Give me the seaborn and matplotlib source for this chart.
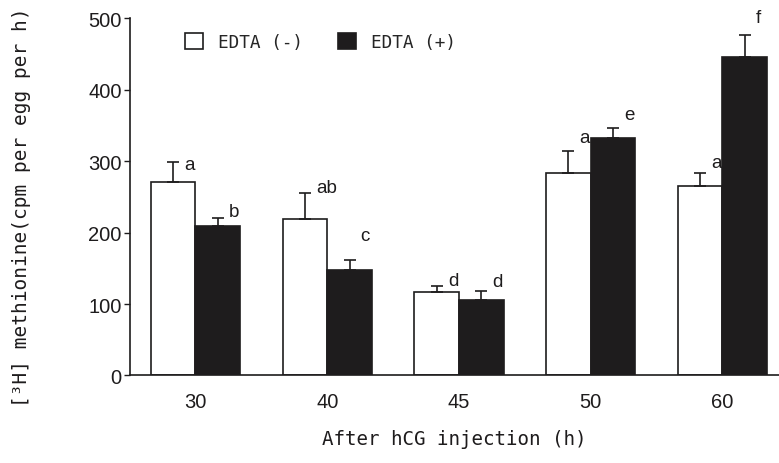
import pandas as pd
import matplotlib
matplotlib.use("Agg")
import matplotlib.pyplot as plt
import seaborn as sns
from matplotlib.patches import Patch

# data
hours = ["30", "40", "45", "50", "60"]
edta_minus = [271, 219, 117, 284, 265]
edta_minus_err = [28, 36, 8, 31, 19]
edta_plus = [210, 148, 106, 333, 446]
edta_plus_err = [11, 14, 12, 14, 31]
letters_minus = ["a", "ab", "d", "a", "a"]
letters_plus = ["b", "c", "d", "e", "f"]
# vertical nudge of each letter above its error bar (data units)
lift_minus = [-3, 8, 8, 18, 14]
lift_plus = [8, 34, 14, 18, 25]

groups = ["EDTA (-)", "EDTA (+)"]
df = pd.DataFrame({
    "hour": hours * 2,
    "group": [groups[0]] * 5 + [groups[1]] * 5,
    "value": edta_minus + edta_plus,
})

sns.set_style("ticks")
mono = ["DejaVu Sans Mono"]
tick_font = ["Liberation Sans Narrow", "Liberation Sans", "DejaVu Sans"]
ink = "#1e1c1d"

fig = plt.figure(figsize=(7.79, 4.64), dpi=100)
ax = fig.add_axes([0.1669, 0.1886, 0.8331, 0.7694])

sns.barplot(data=df, x="hour", y="value", hue="group", order=hours,
            hue_order=groups, palette=["white", ink], width=0.676,
            edgecolor=ink, linewidth=1.2, errorbar=None, legend=False,
            ax=ax)

# error bars (upper only) and significance letters
bars = ax.patches[:10]
errs = edta_minus_err + edta_plus_err
letters = letters_minus + letters_plus
lifts = lift_minus + lift_plus
for bar, e, lab, lift in zip(bars, errs, letters, lifts):
    xc = bar.get_x() + bar.get_width() / 2
    h = bar.get_height()
    ax.errorbar(xc, h, yerr=[[0], [e]], fmt="none", ecolor=ink,
                elinewidth=1.2, capsize=4, capthick=1.2)
    ax.text(xc + 0.085, h + e + lift, lab, ha="left", va="center",
            fontsize=13.5, family=["Liberation Sans", "DejaVu Sans"],
            color=ink, clip_on=False)

ax.set_ylim(0, 500)
ax.set_xlim(-0.497, 4.429)
ax.set_yticks([0, 100, 200, 300, 400, 500])
sns.despine(ax=ax)
for s in ["left", "bottom"]:
    ax.spines[s].set_linewidth(1.2)
    ax.spines[s].set_color(ink)

ax.tick_params(axis="y", length=4, width=1.0, pad=2, labelsize=14.5,
               colors=ink)
ax.tick_params(axis="x", length=0, pad=12, labelsize=14.5, colors=ink)
for t in ax.get_xticklabels() + ax.get_yticklabels():
    t.set_family(tick_font)

ax.set_xlabel("After hCG injection (h)", fontsize=13.8, family=mono,
              color=ink, labelpad=13)
ax.set_ylabel("[³H] methionine(cpm per egg per h)", fontsize=14,
              family=mono, color=ink)
ax.yaxis.set_label_coords(-0.152, 0.473)

handles = [Patch(facecolor="white", edgecolor=ink, linewidth=1.2),
           Patch(facecolor=ink, edgecolor=ink, linewidth=1.2)]
ax.legend(handles, groups, loc="center left", bbox_to_anchor=(0.0847, 0.935),
          ncol=2, frameon=False, borderpad=0, borderaxespad=0,
          handlelength=1.0, handleheight=1.0, handletextpad=0.85,
          columnspacing=2.0, prop={"family": mono, "size": 12.8})

fig.savefig("out.png", dpi=100)
